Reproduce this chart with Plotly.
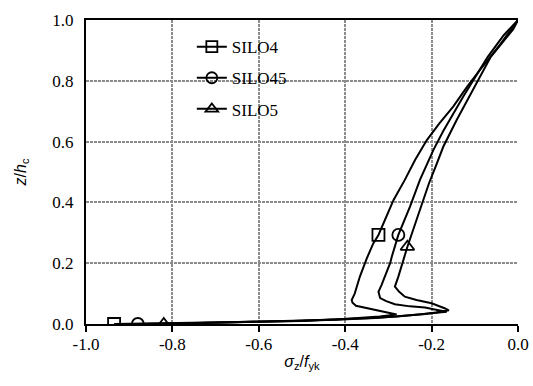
import plotly.graph_objects as go

# z/hc (vertical) values along each curve; sigma_z/f_yk per series
silo4_z = [0.0, 0.003, 0.006, 0.010, 0.015, 0.020, 0.025, 0.031, 0.040, 0.050, 0.060, 0.070, 0.079,
           0.100, 0.156, 0.216, 0.265, 0.293, 0.342, 0.408, 0.474, 0.540, 0.605, 0.660, 0.715, 0.780, 0.836,
           0.918, 1.0]
silo4_x = [-0.935, -0.82, -0.65, -0.50, -0.42, -0.36, -0.32, -0.281, -0.31, -0.35, -0.375, -0.383, -0.385,
           -0.378, -0.366, -0.350, -0.335, -0.323, -0.308, -0.288, -0.262, -0.238, -0.211, -0.182, -0.150, -0.118,
           -0.088, -0.042, 0.0]
silo4_marks = [0, 17]

silo45_z = [0.0, 0.003, 0.006, 0.010, 0.015, 0.020, 0.025, 0.030, 0.035, 0.040, 0.047, 0.054, 0.058, 0.065,
            0.075, 0.085, 0.106, 0.128, 0.200, 0.222, 0.293, 0.342, 0.386, 0.474, 0.572, 0.635, 0.693, 0.750,
            0.803, 0.879, 0.950, 1.0]
silo45_x = [-0.88, -0.80, -0.66, -0.52, -0.42, -0.34, -0.28, -0.24, -0.205, -0.165, -0.19, -0.215, -0.25, -0.285,
            -0.305, -0.319, -0.323, -0.316, -0.296, -0.292, -0.277, -0.262, -0.250, -0.227, -0.196, -0.173, -0.150,
            -0.126, -0.103, -0.070, -0.033, 0.0]
silo45_marks = [0, 20]

silo5_z = [0.0, 0.003, 0.006, 0.010, 0.015, 0.020, 0.026, 0.032, 0.038, 0.045, 0.052, 0.057, 0.068, 0.079,
           0.090, 0.106, 0.123, 0.156, 0.254, 0.342, 0.463, 0.520, 0.583, 0.671, 0.730, 0.781, 0.879, 0.970, 1.0]
silo5_x = [-0.82, -0.74, -0.62, -0.50, -0.41, -0.33, -0.27, -0.22, -0.19, -0.16, -0.17, -0.18, -0.20, -0.235,
           -0.262, -0.275, -0.285, -0.277, -0.256, -0.235, -0.206, -0.190, -0.173, -0.142, -0.120, -0.101, -0.063,
           -0.011, 0.0]
silo5_marks = [0, 18]

series = [
    ("SILO4", silo4_x, silo4_z, silo4_marks, "square-open"),
    ("SILO45", silo45_x, silo45_z, silo45_marks, "circle-open"),
    ("SILO5", silo5_x, silo5_z, silo5_marks, "triangle-up-open"),
]

x_ticks = [-1.0, -0.8, -0.6, -0.4, -0.2, 0.0]
y_ticks = [0.0, 0.2, 0.4, 0.6, 0.8, 1.0]

fig = go.Figure()
for i, (name, xs, zs, marks, sym) in enumerate(series):
    fig.add_trace(go.Scatter(x=xs, y=zs, mode="lines", line=dict(color="black", width=2),
                             showlegend=False, hoverinfo="skip"))
    fig.add_trace(go.Scatter(x=[xs[k] for k in marks], y=[zs[k] for k in marks], mode="markers",
                             marker=dict(symbol=sym, size=12, color="black", line=dict(width=1.8)),
                             showlegend=False, hoverinfo="skip"))
    # legend entry
    fig.add_trace(go.Scatter(x=[None], y=[None], mode="lines+markers", name=name,
                             legendgroup=name,
                             line=dict(color="black", width=2),
                             marker=dict(symbol=sym, size=11, color="black", line=dict(width=1.8))))

serif = "Liberation Serif"
sans = "Liberation Sans"
grid = dict(showgrid=True, gridcolor="#8c8c8c", gridwidth=1.5, griddash="3px,1px")
fig.update_layout(
    template="none",
    width=533, height=386,
    margin=dict(l=86, r=15, t=20, b=62),
    paper_bgcolor="white", plot_bgcolor="white",
    font=dict(family=serif, size=17, color="black"),
    showlegend=True,
    legend=dict(x=0.245, y=0.97, xanchor="left", yanchor="top", bgcolor="rgba(0,0,0,0)",
                font=dict(family=serif, size=17), tracegroupgap=6, itemwidth=30),
    xaxis=dict(range=[-1.0, 0.0], tickmode="array", tickvals=x_ticks, ticktext=["%.1f" % v for v in x_ticks],
               showline=True, linecolor="black", linewidth=2, mirror=True,
               ticks="outside", ticklen=6, tickwidth=1.5, tickcolor="black", ticklabelstandoff=-2,
               zeroline=False, **grid,
               title=dict(text="<i>σ</i><sub>z</sub>/<i>f</i><sub>yk</sub>",
                          font=dict(family=sans, size=16), standoff=2)),
    yaxis=dict(range=[0.0, 1.0], tickmode="array", tickvals=y_ticks, ticktext=["%.1f" % v for v in y_ticks],
               showline=True, linecolor="black", linewidth=2,
               ticks="", ticklabelstandoff=7,
               zeroline=False, **grid,
               title=dict(text="<i>z</i>/<i>h</i><sub>c</sub>",
                          font=dict(family=sans, size=16), standoff=22)),
)
fig.write_html("out.html")
